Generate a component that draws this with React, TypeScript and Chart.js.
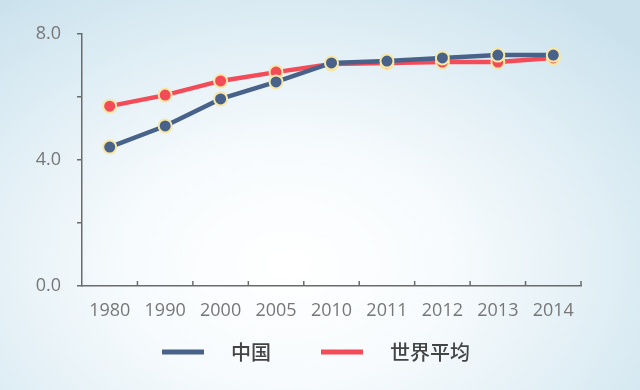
import React, { useEffect, useRef } from "react";
import { Chart, registerables } from "chart.js";

Chart.register(...registerables);

const categories = ["1980", "1990", "2000", "2005", "2010", "2011", "2012", "2013", "2014"];
const chinaValues = [4.41, 5.08, 5.94, 6.48, 7.08, 7.14, 7.24, 7.33, 7.33];
const worldValues = [5.71, 6.06, 6.51, 6.79, 7.05, 7.08, 7.11, 7.11, 7.24];
const seriesNames = ["中国", "世界平均"];
const seriesColors = ["#48628a", "#f44b58"];
const yTickLabels = [0, 4, 8];

const AXIS_COLOR = "#6b6b6b";

const xTickPlugin = {
  id: "xInnerTicks",
  afterDraw(chart: any) {
    const x = chart.scales.x;
    const ctx = chart.ctx;
    const n = categories.length;
    const half = (x.right - x.left) / (2 * n);
    ctx.save();
    ctx.strokeStyle = AXIS_COLOR;
    ctx.lineWidth = 1.5;
    for (let i = 0; i < n; i++) {
      const px = x.getPixelForValue(i) + half;
      ctx.beginPath();
      ctx.moveTo(px, x.top);
      ctx.lineTo(px, x.top - 5);
      ctx.stroke();
    }
    ctx.restore();
  },
};

const legendPlugin = {
  id: "customLegend",
  afterDraw(chart: any) {
    const ctx = chart.ctx;
    ctx.save();
    ctx.font = "500 20px 'Noto Sans CJK SC', 'Noto Sans', sans-serif";
    const lineW = 42;
    const gapText = 27;
    const gapItem = 50;
    const widths = seriesNames.map((s) => ctx.measureText(s).width);
    let total = 0;
    widths.forEach((w, i) => {
      total += lineW + gapText + w + (i < widths.length - 1 ? gapItem : 0);
    });
    let xPos = 316 - total / 2;
    const y = 352;
    seriesNames.forEach((name, i) => {
      ctx.fillStyle = seriesColors[i];
      ctx.fillRect(xPos, y - 2.5, lineW, 5);
      xPos += lineW + gapText;
      ctx.fillStyle = "#444444";
      ctx.textBaseline = "middle";
      ctx.textAlign = "left";
      ctx.fillText(name, xPos, y);
      xPos += widths[i] + gapItem;
    });
    ctx.restore();
  },
};

export default function App() {
  const canvasRef = useRef<HTMLCanvasElement | null>(null);

  useEffect(() => {
    document.body.style.margin = "0";
    const canvas = canvasRef.current;
    if (!canvas) return;
    const pointBorder = "#f6e7a6";
    const chart = new Chart(canvas, {
      type: "line",
      data: {
        labels: categories,
        datasets: [
          {
            label: seriesNames[0],
            data: chinaValues,
            borderColor: seriesColors[0],
            backgroundColor: seriesColors[0],
            borderWidth: 4.5,
            pointRadius: 6.5,
            pointBorderWidth: 2,
            pointBorderColor: pointBorder,
            pointBackgroundColor: seriesColors[0],
            tension: 0,
          },
          {
            label: seriesNames[1],
            data: worldValues,
            borderColor: seriesColors[1],
            backgroundColor: seriesColors[1],
            borderWidth: 4.5,
            pointRadius: 6.5,
            pointBorderWidth: 2,
            pointBorderColor: pointBorder,
            pointBackgroundColor: seriesColors[1],
            tension: 0,
          },
        ],
      },
      options: {
        animation: false,
        responsive: false,
        maintainAspectRatio: false,
        layout: { padding: { left: 0, right: 59, top: 34, bottom: 0 } },
        plugins: {
          legend: { display: false },
          tooltip: { enabled: false },
        },
        scales: {
          x: {
            offset: true,
            grid: { display: false, drawTicks: false },
            border: { display: true, color: AXIS_COLOR, width: 1.5 },
            ticks: {
              color: "#777777",
              font: { family: "'Open Sans', sans-serif", size: 18 },
              padding: 14,
              maxRotation: 0,
              autoSkip: false,
            },
            afterFit(scale: any) {
              scale.height = 104;
            },
          },
          y: {
            min: 0,
            max: 8,
            ticks: {
              stepSize: 2,
              color: "#777777",
              font: { family: "'Open Sans', sans-serif", size: 18 },
              padding: 16,
              callback: (v: any) => (yTickLabels.includes(Number(v)) ? Number(v).toFixed(1) : ""),
            },
            grid: {
              drawOnChartArea: false,
              drawTicks: true,
              tickLength: 5,
              color: AXIS_COLOR,
              lineWidth: 1.5,
            },
            border: { display: true, color: AXIS_COLOR, width: 1.5 },
            afterFit(scale: any) {
              scale.width = 82;
            },
          },
        },
      },
      plugins: [xTickPlugin, legendPlugin],
    });
    return () => chart.destroy();
  }, []);

  return (
    <div
      style={{
        width: 640,
        height: 390,
        background:
          "radial-gradient(ellipse 72% 85% at 45% 68%, #ffffff 0%, #f7fbfd 35%, #e0eef5 70%, #cbe2ed 100%)",
      }}
    >
      <canvas ref={canvasRef} width={640} height={390} style={{ display: "block" }} />
    </div>
  );
}
